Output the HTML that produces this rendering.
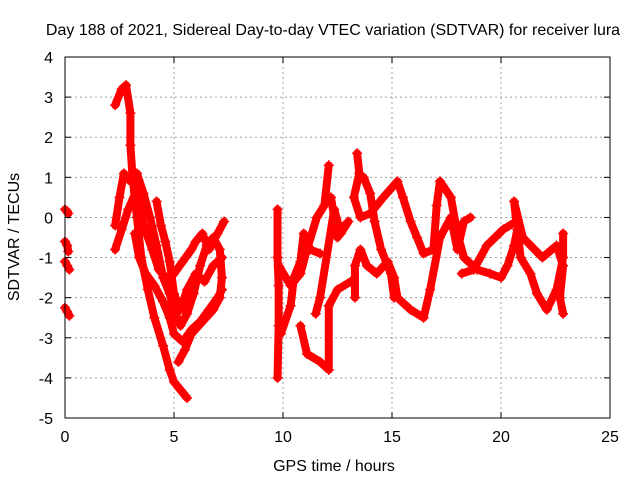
<!DOCTYPE html>
<html><head><meta charset="utf-8"><style>
body{margin:0;background:#fff}
svg text{font-family:"Liberation Sans",sans-serif;font-size:16px;fill:#000}
</style></head><body>
<svg id="c" width="640" height="480" xmlns="http://www.w3.org/2000/svg">
<text x="333" y="35" text-anchor="middle">Day 188 of 2021, Sidereal Day-to-day VTEC variation (SDTVAR) for receiver lura</text>
<text x="334" y="471" text-anchor="middle">GPS time / hours</text>
<text transform="translate(19,237) rotate(-90)" text-anchor="middle">SDTVAR / TECUs</text>
<g id="grid"></g><g id="series"></g><g id="axes"></g>
</svg>
<script>
const xTicks=[0,5,10,15,20,25];
const yTicks=[-5,-4,-3,-2,-1,0,1,2,3,4];
const traceEarly1=[[0,0.2],[0.1,0.15],[0.15,0.1]];
const traceEarly2=[[0,-0.6],[0.1,-0.7],[0.15,-0.85]];
const traceEarly3=[[0,-1.1],[0.1,-1.2],[0.2,-1.3]];
const traceEarly4=[[0,-2.25],[0.1,-2.35],[0.2,-2.45]];
const traceA=[[2.3,2.8],[2.6,3.2],[2.8,3.3],[3.0,2.6],[3.0,1.8],[3.1,1.0],[3.3,0],[3.5,-1],[3.8,-1.8],[4.1,-2.5],[4.5,-3.2],[4.8,-3.8],[5.0,-4.1],[5.3,-4.3],[5.6,-4.5]];
const traceB=[[2.3,-0.2],[2.5,0.5],[2.7,1.1],[3.0,0.9],[3.3,1.1],[3.6,0.6],[3.9,0],[4.2,-0.7],[4.5,-1.5],[4.8,-1.9],[5.0,-2.3],[5.3,-2.7],[5.6,-2.4],[5.9,-1.9],[6.2,-1.2],[6.5,-0.7],[6.8,-0.5],[7.1,-0.8],[7.2,-1.5],[7.1,-2.0],[6.8,-2.3],[6.3,-2.6],[5.8,-2.9],[5.5,-3.3],[5.2,-3.6]];
const traceC=[[2.3,-0.8],[2.6,-0.3],[2.9,0.2],[3.3,0.7],[3.6,-0.2],[4.0,-0.8],[4.3,-1.3],[4.6,-1.5],[5.0,-1.4],[5.4,-1.1],[5.8,-0.8],[6.0,-0.6],[6.3,-0.4],[6.6,-0.8],[7.0,-0.4],[7.3,-0.1]];
const traceD=[[3.2,-0.4],[3.4,-1],[3.7,-1.4],[4.1,-1.7],[4.5,-2.1],[4.8,-2.5],[5.0,-2.9],[5.4,-3.1],[5.8,-2.8],[6.2,-2.6],[6.6,-2.3],[7.0,-2.0],[7.2,-1.8]];
const traceE=[[4.2,0.4],[4.4,-0.2],[4.6,-0.6],[4.8,-1.1],[5.0,-1.9],[5.3,-2.3],[5.6,-1.8],[6.0,-1.4],[6.4,-1.6],[6.8,-1.2],[7.2,-1.0]];
const traceF=[[9.75,0.2],[9.75,-1],[9.8,-1.7],[9.8,-2.7],[9.75,-4.0]];
const traceG=[[9.8,-1.2],[10.35,-1.7],[10.8,-1.4],[11.1,-0.8],[11.55,0],[11.9,0.3],[12.1,1.3]];
const traceH=[[9.9,-2.9],[10.35,-2.2],[10.5,-1.5],[10.8,-1.1],[10.95,-0.4],[11.25,-0.8],[11.7,-0.9]];
const traceI=[[10.8,-2.7],[11.1,-3.4],[11.7,-3.6],[12.1,-3.8],[12.1,-2.2],[12.5,-1.8],[13.1,-1.6]];
const traceJ=[[11.5,-2.4],[11.7,-2.0],[12.35,0.2],[12.65,-0.4],[13,-0.1]];
const traceK=[[13.3,-2.0],[13.3,-1.2],[13.55,-0.8],[13.85,-1.2],[14.3,-1.4],[14.8,-1.1],[15.1,-1.5],[15.25,-2.0],[15.85,-2.3],[16.45,-2.5],[16.75,-1.8],[17.2,-0.5],[17.7,0],[18,-0.8],[18.3,-0.1],[18.6,0]];
const traceL=[[13.4,1.6],[13.5,1.1],[13.25,0.5],[13.55,0],[14,0.1],[14.6,0.5],[15.25,0.9],[15.5,0.5],[15.85,-0.1],[16.15,-0.5],[16.45,-0.9],[16.9,-0.8],[17.05,0.3],[17.2,0.9],[17.7,0.5],[18,-0.4],[18.3,-1],[18.9,-1.3],[19.5,-1.4],[20,-1.5],[20.3,-1.2],[20.6,-0.7],[20.75,-0.3],[20.9,-1],[21.35,-1.4],[21.65,-1.9],[22.1,-2.3],[22.55,-1.8],[22.85,-1.0],[22.85,-0.4]];
const traceM=[[13.7,1],[14,0.6],[14.2,-0.1],[14.5,-0.8],[14.95,-1.4],[15.1,-2]];
const traceN=[[18.2,-1.4],[18.75,-1.3],[19.35,-0.7],[20.1,-0.3],[20.7,-0.1],[20.6,0.4],[21,-0.5],[21.9,-1],[22.55,-0.7],[22.85,-1.2],[22.7,-2],[22.85,-2.4]];
const traceO=[[12.2,0.5],[12.5,-0.5],[12.8,-0.2]];
const traces=[traceEarly1,traceEarly2,traceEarly3,traceEarly4,traceA,traceB,traceC,traceD,traceE,traceF,traceG,traceH,traceI,traceJ,traceK,traceL,traceM,traceN,traceO];

const L=65,R=610,T=57,B=418;
const xs=v=>L+(v-0)/25*(R-L);
const ys=v=>B-(v+5)/9*(B-T);
const NS='http://www.w3.org/2000/svg';
function mk(tag,attrs,parent){const e=document.createElementNS(NS,tag);for(const k in attrs)e.setAttribute(k,attrs[k]);parent.appendChild(e);return e;}
const grid=document.getElementById('grid'),axes=document.getElementById('axes'),ser=document.getElementById('series');
xTicks.forEach(t=>{const x=xs(t);
 if(t>0&&t<25){const g=mk('line',{x1:x,x2:x,y1:T,y2:B,stroke:'#a0a0a0','stroke-dasharray':'2,3'},grid);
 
 }
 mk('line',{x1:x,x2:x,y1:B,y2:B-6,stroke:'#000'},axes);mk('line',{x1:x,x2:x,y1:T,y2:T+6,stroke:'#000'},axes);
 const tx=mk('text',{x:x,y:B+24,'text-anchor':'middle'},axes);tx.textContent=t;
 
 });
yTicks.forEach(t=>{const y=ys(t);
 if(t>-5&&t<4){const g=mk('line',{x1:L,x2:R,y1:y,y2:y,stroke:'#a0a0a0','stroke-dasharray':'2,3'},grid);
 
 }
 mk('line',{x1:L,x2:L+6,y1:y,y2:y,stroke:'#000'},axes);mk('line',{x1:R,x2:R-6,y1:y,y2:y,stroke:'#000'},axes);
 const tx=mk('text',{x:L-12,y:y+6,'text-anchor':'end'},axes);tx.textContent=t;
 
 });
const fr=mk('rect',{x:L,y:T,width:R-L,height:B-T,fill:'none',stroke:'#000'},axes);


traces.forEach((tr,i)=>{
 const g=mk('g',{},ser);
 
 
 mk('polyline',{points:tr.map(p=>xs(p[0])+','+ys(p[1])).join(' '),fill:'none',stroke:'#ff0000','stroke-width':8,'stroke-linejoin':'round','stroke-linecap':'round'},g);
 tr.forEach(p=>{const x=xs(p[0]),y=ys(p[1]);
  mk('path',{d:`M${x-5},${y}H${x+5}M${x},${y-5}V${y+5}`,stroke:'#ff0000','stroke-width':1.5},g);});
});
</script>
</body></html>
